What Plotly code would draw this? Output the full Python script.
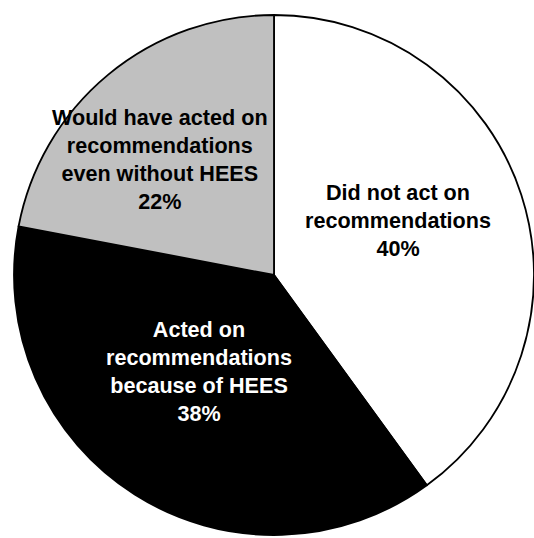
import plotly.graph_objects as go

labels = [
    "Did not act on<br>recommendations",
    "Acted on<br>recommendations<br>because of HEES",
    "Would have acted on<br>recommendations<br>even without HEES",
]
values = [40, 38, 22]
colors = ["#FFFFFF", "#000000", "#C0C0C0"]
text_colors = ["#000000", "#FFFFFF", "#000000"]

W, H = 534, 538
# label centres in pixels
label_px = [(398, 220), (199, 371), (160, 159)]

fig = go.Figure(
    go.Pie(
        labels=labels,
        values=values,
        sort=False,
        direction="clockwise",
        rotation=0,
        marker=dict(colors=colors, line=dict(color="#000000", width=1.8)),
        textinfo="none",
        hoverinfo="label+percent",
        showlegend=False,
        domain=dict(x=[14 / W, 1], y=[0, 1 - 12 / H]),
    )
)

total = sum(values)
annotations = []
for lab, v, tc, (px, py) in zip(labels, values, text_colors, label_px):
    annotations.append(
        dict(
            text=f"<b>{lab}<br>{round(100 * v / total)}%</b>",
            x=px / W,
            y=1 - py / H,
            xref="paper",
            yref="paper",
            xanchor="center",
            yanchor="middle",
            showarrow=False,
            font=dict(family="Arial, Liberation Sans, sans-serif", size=21.6, color=tc),
        )
    )

fig.update_layout(
    width=W,
    height=H,
    margin=dict(l=0, r=0, t=0, b=0),
    paper_bgcolor="#FFFFFF",
    plot_bgcolor="#FFFFFF",
    annotations=annotations,
)

fig.write_html("out.html")
